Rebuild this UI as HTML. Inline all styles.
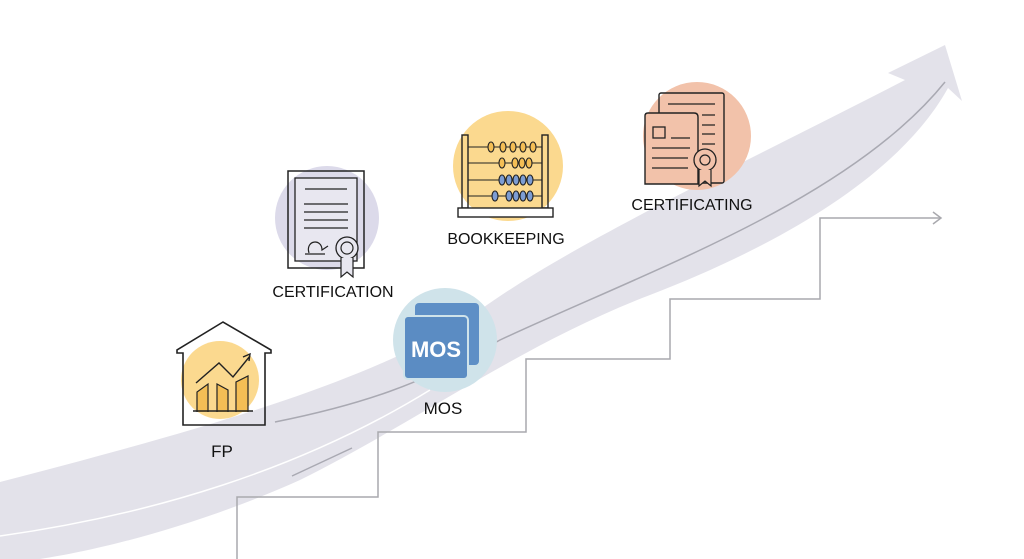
<!DOCTYPE html>
<html><head><style>
html,body{margin:0;padding:0;background:#fff;}
body{width:1024px;height:559px;overflow:hidden;position:relative;font-family:"Liberation Sans",sans-serif;}
</style></head><body>
<svg width="1024" height="559" viewBox="0 0 1024 559" xmlns="http://www.w3.org/2000/svg" style="position:absolute;left:0;top:0">
<path d="M0,482 C200,430 380,380 480,310 C570,245 720,175 905,80 L888,73 L945,45 L962,101 L948,88 C900,175 780,245 650,295 C520,345 420,420 300,480 C200,525 100,550 40,559 L0,559 Z" fill="#e3e2ea"/>
<path d="M0,536 C150,515 300,470 430,390" fill="none" stroke="#fff" stroke-width="1.5"/>
<path d="M275,422 C360,405 420,385 500,340 C650,270 850,200 945,82" fill="none" stroke="#a9a9b2" stroke-width="1.5"/>
<path d="M292,476 L352,448" stroke="#a9a9b2" stroke-width="1.5"/>
<path d="M237,559 V497 H378 V432 H526 V359 H670 V299 H820 V218 H940" fill="none" stroke="#a9a9ae" stroke-width="1.5"/>
<path d="M933,212 L941,218 L933,224" fill="none" stroke="#a9a9ae" stroke-width="1.5"/>

<circle cx="220" cy="380" r="39" fill="#fbd98f"/>
<path d="M177,353 V350 L223,322 L271,350 V353 H265 V425 H183 V353 Z" fill="none" stroke="#222" stroke-width="1.6"/>
<path d="M197,412 V392 L208,384 V412 M217,412 V384 L228,390 V412 M236,412 V382 L248,376 V412" fill="#f4be55" stroke="#222" stroke-width="1.2"/>
<path d="M193,411 H253" stroke="#222" stroke-width="1.4"/>
<path d="M196,383 L219,363 L233,377 L250,356 M243,357 L250,354 L249,361" fill="none" stroke="#222" stroke-width="1.4"/>
<text x="222" y="457" font-size="17" text-anchor="middle" fill="#111">FP</text>

<circle cx="327" cy="218" r="52" fill="#dcdaea"/>
<rect x="288" y="171" width="76" height="97" fill="none" stroke="#222" stroke-width="1.5"/>
<rect x="295" y="178" width="62" height="83" fill="#e8e7f0" stroke="#222" stroke-width="1.3"/>
<path d="M305,189 H347 M304,204 H348 M304,212 H348 M304,220 H348 M304,228 H348" stroke="#222" stroke-width="1.3"/>
<path d="M305,254 H325 M309,253 C305,240 322,238 322,250 L328,246" fill="none" stroke="#222" stroke-width="1.2"/>
<circle cx="347" cy="248" r="11" fill="#e8e7f0" stroke="#222" stroke-width="1.3"/>
<circle cx="347" cy="248" r="6" fill="none" stroke="#222" stroke-width="1.2"/>
<path d="M341,258 V277 L347,272 L353,277 V258" fill="#e8e7f0" stroke="#222" stroke-width="1.2"/>
<text x="333" y="297" font-size="16" text-anchor="middle" fill="#111">CERTIFICATION</text>

<circle cx="508" cy="166" r="55" fill="#fbd98f"/>
<rect x="462" y="135" width="6" height="73" fill="none" stroke="#222" stroke-width="1.4"/>
<rect x="542" y="135" width="6" height="73" fill="none" stroke="#222" stroke-width="1.4"/>
<rect x="458" y="208" width="95" height="9" fill="#fff" stroke="#222" stroke-width="1.4"/>
<g stroke="#222" stroke-width="1.1">
<path d="M468,147 H542 M468,163 H542 M468,180 H542 M468,196 H542"/>
<g fill="#f4be55"><ellipse cx="491" cy="147" rx="3" ry="5"/><ellipse cx="503" cy="147" rx="3" ry="5"/><ellipse cx="513" cy="147" rx="3" ry="5"/><ellipse cx="523" cy="147" rx="3" ry="5"/><ellipse cx="533" cy="147" rx="3" ry="5"/>
<ellipse cx="502" cy="163" rx="3" ry="5"/><ellipse cx="515" cy="163" rx="3" ry="5"/><ellipse cx="522" cy="163" rx="3" ry="5"/><ellipse cx="529" cy="163" rx="3" ry="5"/></g>
<g fill="#7d9dd3"><ellipse cx="502" cy="180" rx="3" ry="5"/><ellipse cx="509" cy="180" rx="3" ry="5"/><ellipse cx="516" cy="180" rx="3" ry="5"/><ellipse cx="523" cy="180" rx="3" ry="5"/><ellipse cx="530" cy="180" rx="3" ry="5"/>
<ellipse cx="495" cy="196" rx="3" ry="5"/><ellipse cx="509" cy="196" rx="3" ry="5"/><ellipse cx="516" cy="196" rx="3" ry="5"/><ellipse cx="523" cy="196" rx="3" ry="5"/><ellipse cx="530" cy="196" rx="3" ry="5"/></g>
</g>
<text x="506" y="244" font-size="16" text-anchor="middle" fill="#111">BOOKKEEPING</text>

<circle cx="445" cy="340" r="52" fill="#cfe3ea"/>
<rect x="415" y="303" width="64" height="62" rx="4" fill="#5e8fc6"/>
<rect x="404" y="316" width="64" height="63" rx="4" fill="#5b8cc3" stroke="#cfe3ea" stroke-width="2"/>
<text x="436" y="357" font-size="22" font-weight="bold" text-anchor="middle" fill="#fff">MOS</text>
<text x="443" y="414" font-size="17" text-anchor="middle" fill="#111">MOS</text>

<circle cx="697" cy="136" r="54" fill="#f2c2aa"/>
<rect x="659" y="93" width="65" height="90" rx="2" fill="none" stroke="#222" stroke-width="1.4"/>
<path d="M645,184 V116 Q645,113 648,113 H694 Q698,113 698,117 V184 Z" fill="#f2c2aa" stroke="#222" stroke-width="1.4"/>
<path d="M668,104 H715 M702,115 H715 M702,125 H715 M702,134 H715 M702,144 H715" stroke="#222" stroke-width="1.3"/>
<rect x="653" y="127" width="12" height="11" fill="none" stroke="#222" stroke-width="1.3"/>
<path d="M671,138 H690 M652,148 H690 M652,158 H688 M652,168 H688" stroke="#222" stroke-width="1.3"/>
<circle cx="705" cy="160" r="11" fill="#f2c2aa" stroke="#222" stroke-width="1.3"/>
<circle cx="705" cy="160" r="5" fill="none" stroke="#222" stroke-width="1.2"/>
<path d="M699,170 V186 L705,181 L711,186 V170" fill="#f2c2aa" stroke="#222" stroke-width="1.2"/>
<text x="692" y="210" font-size="16" text-anchor="middle" fill="#111">CERTIFICATING</text>
</svg>
</body></html>
